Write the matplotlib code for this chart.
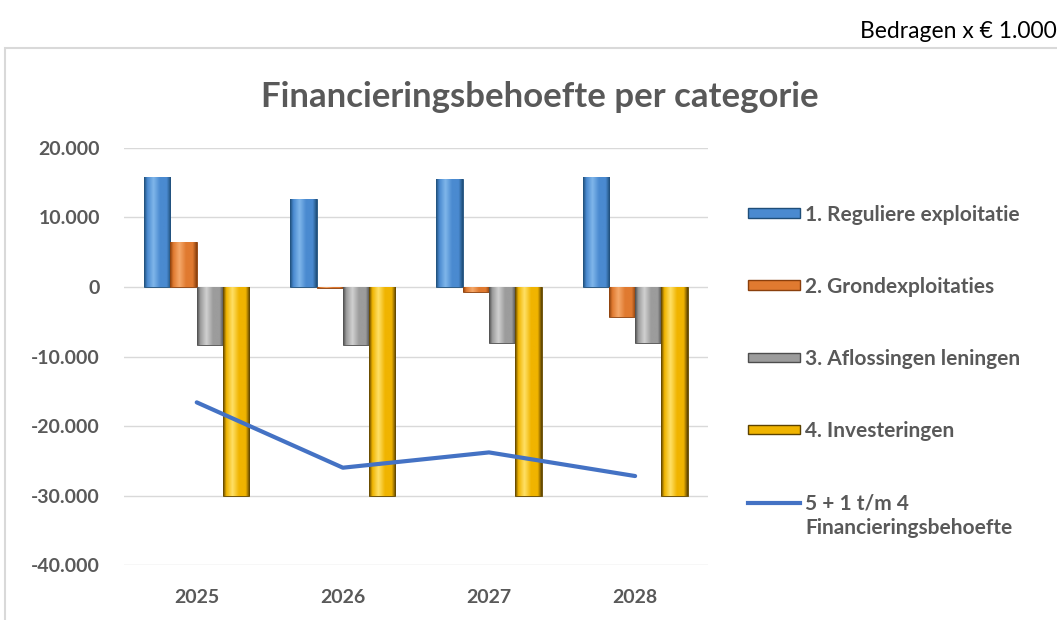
import numpy as np
import matplotlib.pyplot as plt
from matplotlib.colors import LinearSegmentedColormap
from matplotlib.patches import Rectangle, Patch
from matplotlib.lines import Line2D

# data (bedragen x 1.000)
jaren = ['2025', '2026', '2027', '2028']
reguliere_exploitatie = [15800, 12700, 15500, 15800]
grondexploitaties = [6500, -100, -700, -4300]
aflossingen_leningen = [-8300, -8300, -8000, -8000]
investeringen = [-30000, -30000, -30000, -30000]
financieringsbehoefte = [-16600, -26000, -23800, -27200]

reeks_namen = ['1. Reguliere exploitatie', '2. Grondexploitaties',
               '3. Aflossingen leningen', '4. Investeringen']
lijn_naam = ['5 + 1 t/m 4', 'Financieringsbehoefte']

# kleuren: (donker, basis, licht)
kleuren = [('#1f4e79', '#4a8ad0', '#7fb6ea'),
           ('#8a3f0c', '#e07a30', '#f5a86a'),
           ('#4d4d4d', '#9c9c9c', '#d0d0d0'),
           ('#5c4200', '#f0b400', '#ffe066')]
lijn_kleur = '#4472c4'
tekst_grijs = '#595959'

plt.rcParams['font.family'] = ['Lato', 'DejaVu Sans']

fig = plt.figure(figsize=(10.57, 6.2), dpi=100)
ax = fig.add_axes([0.117, 0.0887, 0.553, 0.6726])

x = np.arange(len(jaren))
breedte = 0.18
reeksen = [reguliere_exploitatie, grondexploitaties, aflossingen_leningen, investeringen]

# cilinder-effect: verloop over de breedte van elke staaf
gradient = np.linspace(0, 1, 64).reshape(1, -1)
for i, (waarden, (donker, basis, licht)) in enumerate(zip(reeksen, kleuren)):
    offset = (i - 1.5) * breedte
    bars = ax.bar(x + offset, waarden, breedte, color=basis, edgecolor=donker,
                  linewidth=0.6, zorder=2)
    cmap = LinearSegmentedColormap.from_list(
        'cil%d' % i, [(0, donker), (0.12, basis), (0.35, licht), (0.6, basis), (0.85, basis), (1, donker)])
    for b in bars:
        bx, by = b.get_x(), b.get_y()
        bw, bh = b.get_width(), b.get_height()
        if abs(bh) < 1:
            continue
        im = ax.imshow(gradient, cmap=cmap, aspect='auto', zorder=2.5,
                       extent=[bx, bx + bw, by, by + bh], interpolation='bilinear')
        im.set_clip_path(b)

ax.plot(x, financieringsbehoefte, color=lijn_kleur, lw=3, zorder=4,
        solid_capstyle='round')

ax.set_xlim(-0.5, 3.5)
ax.set_ylim(-40000, 20000)
ax.set_yticks(np.arange(-40000, 20001, 10000))
ax.set_yticklabels(['{:,}'.format(v).replace(',', '.') for v in range(-40000, 20001, 10000)])
ax.set_xticks(x)
ax.set_xticklabels(jaren)
ax.tick_params(length=0, labelsize=14, colors=tekst_grijs, pad=17)
ax.tick_params(axis='x', pad=17)
for lbl in ax.get_xticklabels() + ax.get_yticklabels():
    lbl.set_fontweight('bold')
ax.grid(axis='y', color='#d9d9d9', lw=1, zorder=0)
ax.set_axisbelow(True)
for s in ax.spines.values():
    s.set_visible(False)

# kader van de grafiek
fig.patches.append(Rectangle((5 / 1057, -0.1), 1.2, 1 - 48 / 620 + 0.1,
                             transform=fig.transFigure, fill=False,
                             edgecolor='#d9d9d9', lw=1.5))

fig.text(0.511, 1 - 97 / 620, 'Financieringsbehoefte per categorie', ha='center',
         va='center', fontsize=25, fontweight='bold', color=tekst_grijs)
fig.text(1.0, 1 - 31 / 620, 'Bedragen x € 1.000', ha='right', va='center',
         fontsize=16.5, color='black')

handles = [Patch(facecolor=k[1], edgecolor=k[0]) for k in kleuren]
handles.append(Line2D([0], [0], color=lijn_kleur, lw=3))
leg = fig.legend(handles, reeks_namen + [lijn_naam[0]], loc='upper left',
                 bbox_to_anchor=(0.690, 1 - 186 / 620), frameon=False,
                 fontsize=15, labelspacing=2.5, handlelength=2.5,
                 handleheight=0.35, handletextpad=0.25)
for t in leg.get_texts():
    t.set_color(tekst_grijs)
    t.set_fontweight('bold')

# tweede regel van de lijn-legenda onder de eerste
fig.canvas.draw()
bb = leg.get_texts()[-1].get_window_extent().transformed(fig.transFigure.inverted())
fig.text(bb.x0, bb.y0 - 0.008, lijn_naam[1], ha='left', va='top', fontsize=15,
         fontweight='bold', color=tekst_grijs)

fig.savefig('out.png', dpi=100)
